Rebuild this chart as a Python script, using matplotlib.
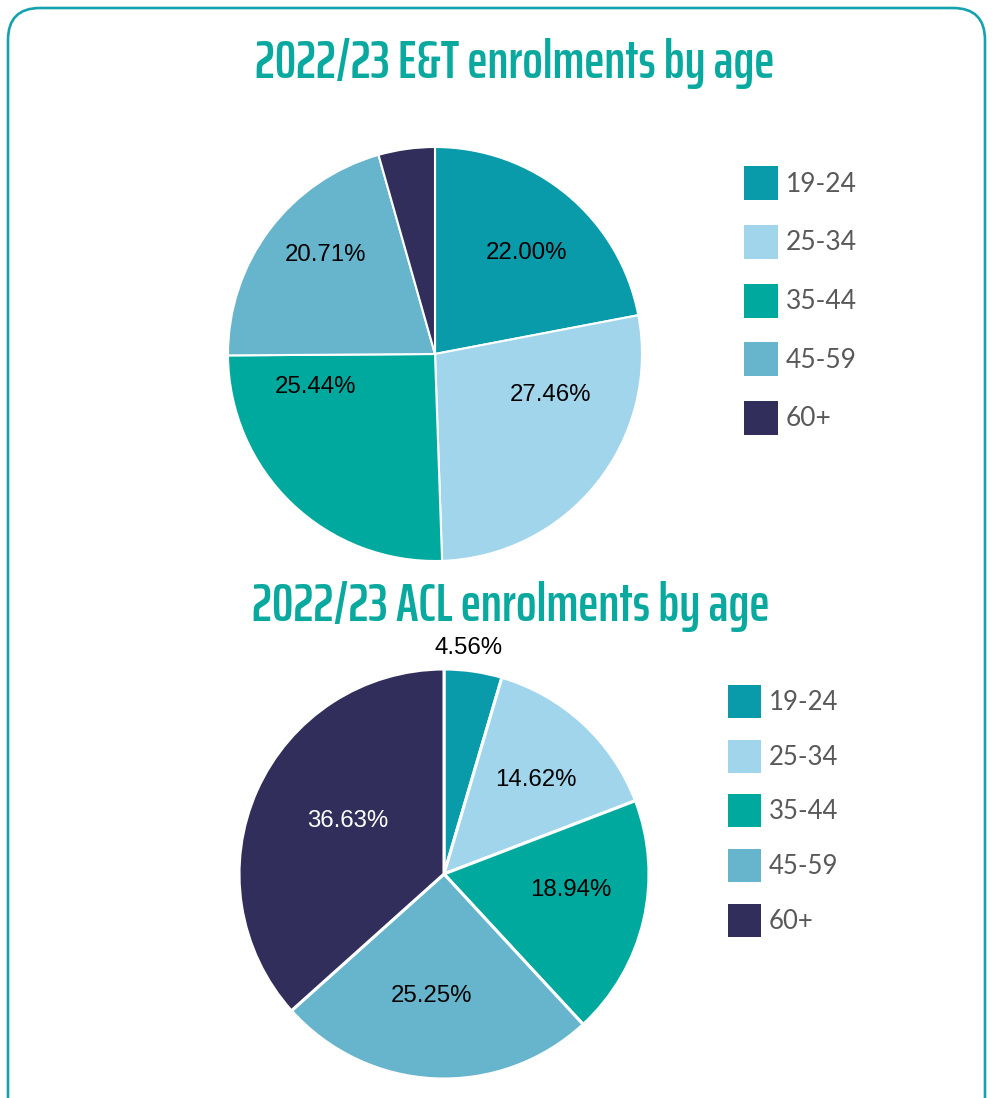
import matplotlib
matplotlib.use("Agg")
import matplotlib.pyplot as plt
from matplotlib.patches import FancyBboxPatch, Rectangle

# ---------------- data ----------------
age_groups = ["19-24", "25-34", "35-44", "45-59", "60+"]
et_share = [22.00, 27.46, 25.44, 20.71, 4.40]
acl_share = [4.56, 14.62, 18.94, 25.25, 36.63]
titles = ["2022/23 E&T enrolments by age", "2022/23 ACL enrolments by age"]

# ---------------- style / layout ----------------
colors = ["#0A9BAA", "#A0D5EB", "#00A99D", "#67B5CC", "#312E5B"]
label_colors = ["black", "black", "black", "black", "white"]
title_color = "#0AA99F"
border_color = "#14A2AE"
legend_text_color = "#595959"

# label positions in pie-radius units (x, y)
et_label_pos = [(0.44, 0.49), (0.56, -0.20), (-0.575, -0.16), (-0.53, 0.48), (-0.135, 1.14)]
acl_label_pos = [(0.12, 1.10), (0.45, 0.46), (0.62, -0.08), (-0.06, -0.595), (-0.47, 0.26)]

W, H = 995, 1098
fig = plt.figure(figsize=(W / 100, H / 100), dpi=100)

# background axes in pixel coordinates (y downwards)
bg = fig.add_axes([0, 0, 1, 1])
bg.set_xlim(0, W)
bg.set_ylim(H, 0)
bg.axis("off")
border = FancyBboxPatch((8, 8), 977, 1250, boxstyle="round,pad=0,rounding_size=32",
                        facecolor="none", edgecolor=border_color, linewidth=1.9,
                        clip_on=True)
bg.add_patch(border)


def pie_axes(cx, cy, r):
    return fig.add_axes([(cx - r) / W, (H - cy - r) / H, 2 * r / W, 2 * r / H])


def draw_pie(ax, values, label_pos, lw):
    ax.pie(values, colors=colors, startangle=90, counterclock=False, radius=1,
           wedgeprops=dict(edgecolor="white", linewidth=lw))
    ax.set_xlim(-1, 1)
    ax.set_ylim(-1, 1)
    ax.set_aspect("auto")
    ax.axis("off")
    for v, (x, y), c in zip(values, label_pos, label_colors):
        ax.text(x, y, f"{v:.2f}%", ha="center", va="center", color=c,
                fontsize=17.3, family=["Liberation Sans", "DejaVu Sans"])


ax1 = pie_axes(435, 354, 207)
draw_pie(ax1, et_share, et_label_pos, 1.5)
ax2 = pie_axes(444, 874, 205)
draw_pie(ax2, acl_share, acl_label_pos, 2.2)

# titles (condensed bold), fitted to the reference width
title_font = ["Saira ExtraCondensed", "Barlow Condensed", "Roboto Condensed", "DejaVu Sans"]
renderer = fig.canvas.get_renderer()
for t, (cx, baseline, target_w) in zip(titles, [(515, 78, 520), (511, 621, 518)]):
    txt = bg.text(cx, baseline, t, ha="center", va="baseline", color=title_color,
                  fontsize=40, fontweight=600, fontstretch="condensed",
                  family=title_font)
    w = txt.get_window_extent(renderer).width
    txt.set_fontsize(40 * target_w / w)

# legends drawn in pixel coordinates
def draw_legend(x, y_top, row_gap, sq, fs):
    for i, (lab, c) in enumerate(zip(age_groups, colors)):
        y = y_top + i * row_gap
        bg.add_patch(Rectangle((x, y), sq, sq, facecolor=c, edgecolor="none"))
        bg.text(x + sq + 8, y + sq / 2 + 1, lab, ha="left", va="center",
                color=legend_text_color, fontsize=fs,
                family=["Lato", "DejaVu Sans"])


draw_legend(744, 166, 58.75, 34, 19)
draw_legend(728, 685, 54.7, 33, 18.5)

fig.savefig("out.png", dpi=100)
